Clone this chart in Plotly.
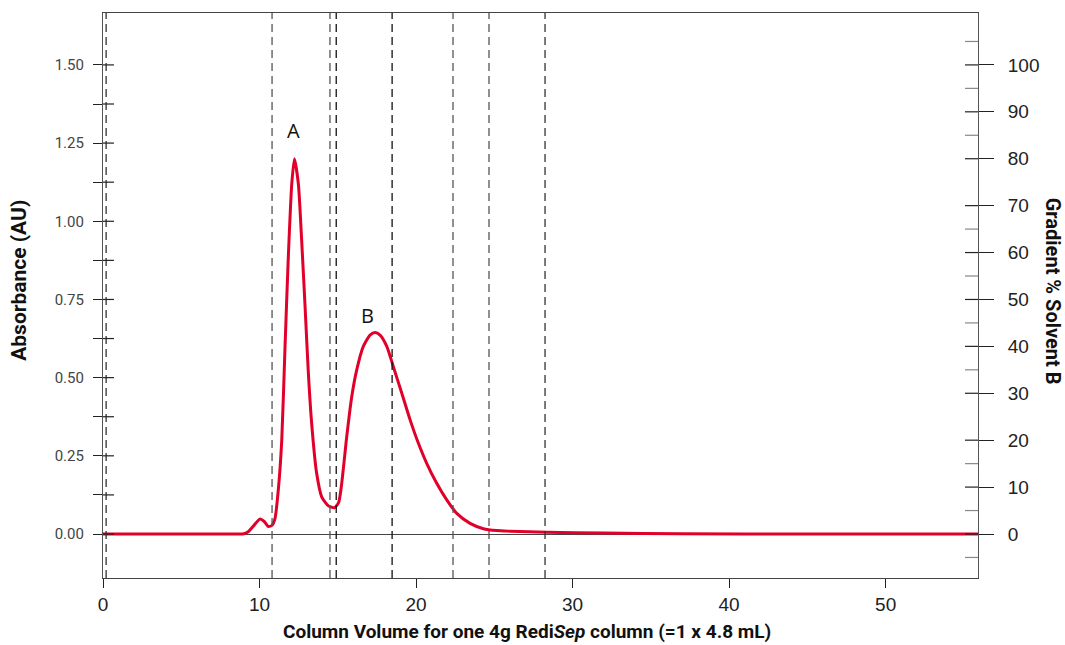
import plotly.graph_objects as go

# ---- data ----
cv = [0, 3, 6, 8.0, 8.7, 9.0, 9.3, 9.6, 10.03, 10.3, 10.56, 10.8, 10.99, 11.2, 11.42, 11.63, 11.84,
      12.06, 12.23, 12.48, 12.69, 12.91, 13.12, 13.33, 13.65, 13.97, 14.4, 14.78, 15.05,
      15.25, 15.57, 15.89, 16.21, 16.63, 17.06, 17.38, 17.7, 18.13, 18.55, 19.09, 19.62,
      20.15, 20.68, 21.32, 21.96, 22.6, 23.45, 24.3, 25.16, 26.0, 28.35, 32, 37, 45, 56]
absorbance = [0, 0, 0, 0.0, 0.0, 0.001, 0.008, 0.025, 0.048, 0.040, 0.024, 0.028, 0.05, 0.141, 0.30, 0.60, 0.887,
              1.12, 1.20, 1.12, 0.94, 0.727, 0.514, 0.354, 0.194, 0.119, 0.09, 0.084, 0.10,
              0.162, 0.311, 0.439, 0.525, 0.60, 0.636, 0.644, 0.636, 0.60, 0.535, 0.45, 0.365,
              0.29, 0.226, 0.162, 0.109, 0.066, 0.034, 0.017, 0.011, 0.009, 0.0055, 0.003, 0.001, 0.0, 0.0]
fraction_cuts = [0.2, 10.8, 14.5, 14.9, 18.47, 22.36, 24.66, 28.24]
fraction_colors = ["#333333", "#555555", "#555555", "#111111", "#111111", "#555555", "#555555", "#333333"]
peak_labels = ["A", "B"]
peak_pos = [(12.2, 1.29), (16.87, 0.70)]
left_ticks = [0, 0.25, 0.5, 0.75, 1.0, 1.25, 1.5]
left_minor = [0.125, 0.375, 0.625, 0.875, 1.125, 1.375]
right_ticks = [0, 10, 20, 30, 40, 50, 60, 70, 80, 90, 100]
right_minor = [-5, 5, 15, 35, 45, 55, 65, 85, 95, 105]
x_ticks = [0, 10, 20, 30, 40, 50]

NARROW = "Roboto, Liberation Sans, Arial, sans-serif"
NORMAL = "Liberation Sans, Arial, Helvetica, sans-serif"

y1_range = [-0.1407, 1.666]
y2_range = [v * 200 / 3 for v in y1_range]

fig = go.Figure()
fig.add_trace(go.Scatter(x=cv, y=absorbance, mode="lines",
                         line=dict(color="#e1002a", width=3, shape="spline", smoothing=0.6),
                         showlegend=False, hoverinfo="skip"))
# invisible trace to activate y2
fig.add_trace(go.Scatter(x=[0], y=[0], yaxis="y2", mode="markers",
                         marker=dict(opacity=0), showlegend=False, hoverinfo="skip"))

shapes = []
for xc, col in zip(fraction_cuts, fraction_colors):
    shapes.append(dict(type="line", xref="x", yref="paper", x0=xc, x1=xc, y0=0, y1=1,
                       line=dict(color=col, width=1.3, dash="8px,5px"), layer="above"))
plot_w = 875.0
# inside parts of left crossing ticks
for v in left_ticks + left_minor:
    shapes.append(dict(type="line", xref="paper", yref="y", x0=0, x1=11 / plot_w, y0=v, y1=v,
                       line=dict(color="#222222", width=1.2)))
# inside parts of right ticks
for v in right_ticks:
    shapes.append(dict(type="line", xref="paper", yref="y2", x0=1 - 13 / plot_w, x1=1, y0=v, y1=v,
                       line=dict(color="#222222", width=1.2)))
for v in right_minor:
    shapes.append(dict(type="line", xref="paper", yref="y2", x0=1 - 13 / plot_w, x1=1, y0=v, y1=v,
                       line=dict(color="#888888", width=1.2)))

annotations = []
for lab, (px, py) in zip(peak_labels, peak_pos):
    annotations.append(dict(x=px, y=py, xref="x", yref="y", text=lab, showarrow=False,
                            font=dict(family="Open Sans, Liberation Sans, sans-serif", size=20, color="#111")))
annotations.append(dict(x=0.485, y=-0.118, xref="paper", yref="paper", xanchor="center", yanchor="bottom",
                        text="<b>Column Volume for one 4g Redi<i>Sep</i> column (=1 x 4.8 mL)</b>",
                        showarrow=False, font=dict(family=NARROW, size=19, color="#111")))
annotations.append(dict(x=1.086, y=0.508, xref="paper", yref="paper", xanchor="center", yanchor="middle",
                        text="<b>Gradient % Solvent B</b>", textangle=90,
                        showarrow=False, font=dict(family=NARROW, size=20, color="#111")))
annotations.append(dict(x=-0.096, y=0.526, xref="paper", yref="paper", xanchor="center", yanchor="middle",
                        text="<b>Absorbance (AU)</b>", textangle=-90,
                        showarrow=False, font=dict(family=NARROW, size=21, color="#111")))

fig.update_layout(
    width=1065, height=645,
    margin=dict(l=103, r=87, t=13, b=67),
    paper_bgcolor="white", plot_bgcolor="white",
    shapes=shapes, annotations=annotations,
    xaxis=dict(range=[0, 55.9], tickvals=x_ticks, ticks="outside", ticklen=9, tickcolor="#222",
               showline=True, linecolor="#444", linewidth=1.2, mirror=True, showgrid=False,
               zeroline=False, tickfont=dict(family=NORMAL, size=19, color="#222")),
    yaxis=dict(range=y1_range, tickvals=left_ticks, ticktext=[f"{v:.2f}" for v in left_ticks],
               ticks="outside", ticklen=9, tickcolor="#222", ticklabelstandoff=6,
               minor=dict(tickvals=left_minor, ticks="outside", ticklen=9, tickcolor="#222"),
               showline=True, linecolor="#555", linewidth=1.2, mirror=True, showgrid=False,
               zeroline=True, zerolinecolor="#444", zerolinewidth=1.2,
               tickfont=dict(family=NARROW, size=15, color="#444")),
    yaxis2=dict(range=y2_range, overlaying="y", side="right", tickvals=right_ticks,
                ticks="outside", ticklen=15, tickcolor="#222", ticklabelstandoff=10,
                showline=False, showgrid=False, zeroline=False,
                tickfont=dict(family=NORMAL, size=19, color="#222")),
)

fig.write_html("out.html", config={"displayModeBar": False},
               post_script="document.body.style.margin='0px';")
